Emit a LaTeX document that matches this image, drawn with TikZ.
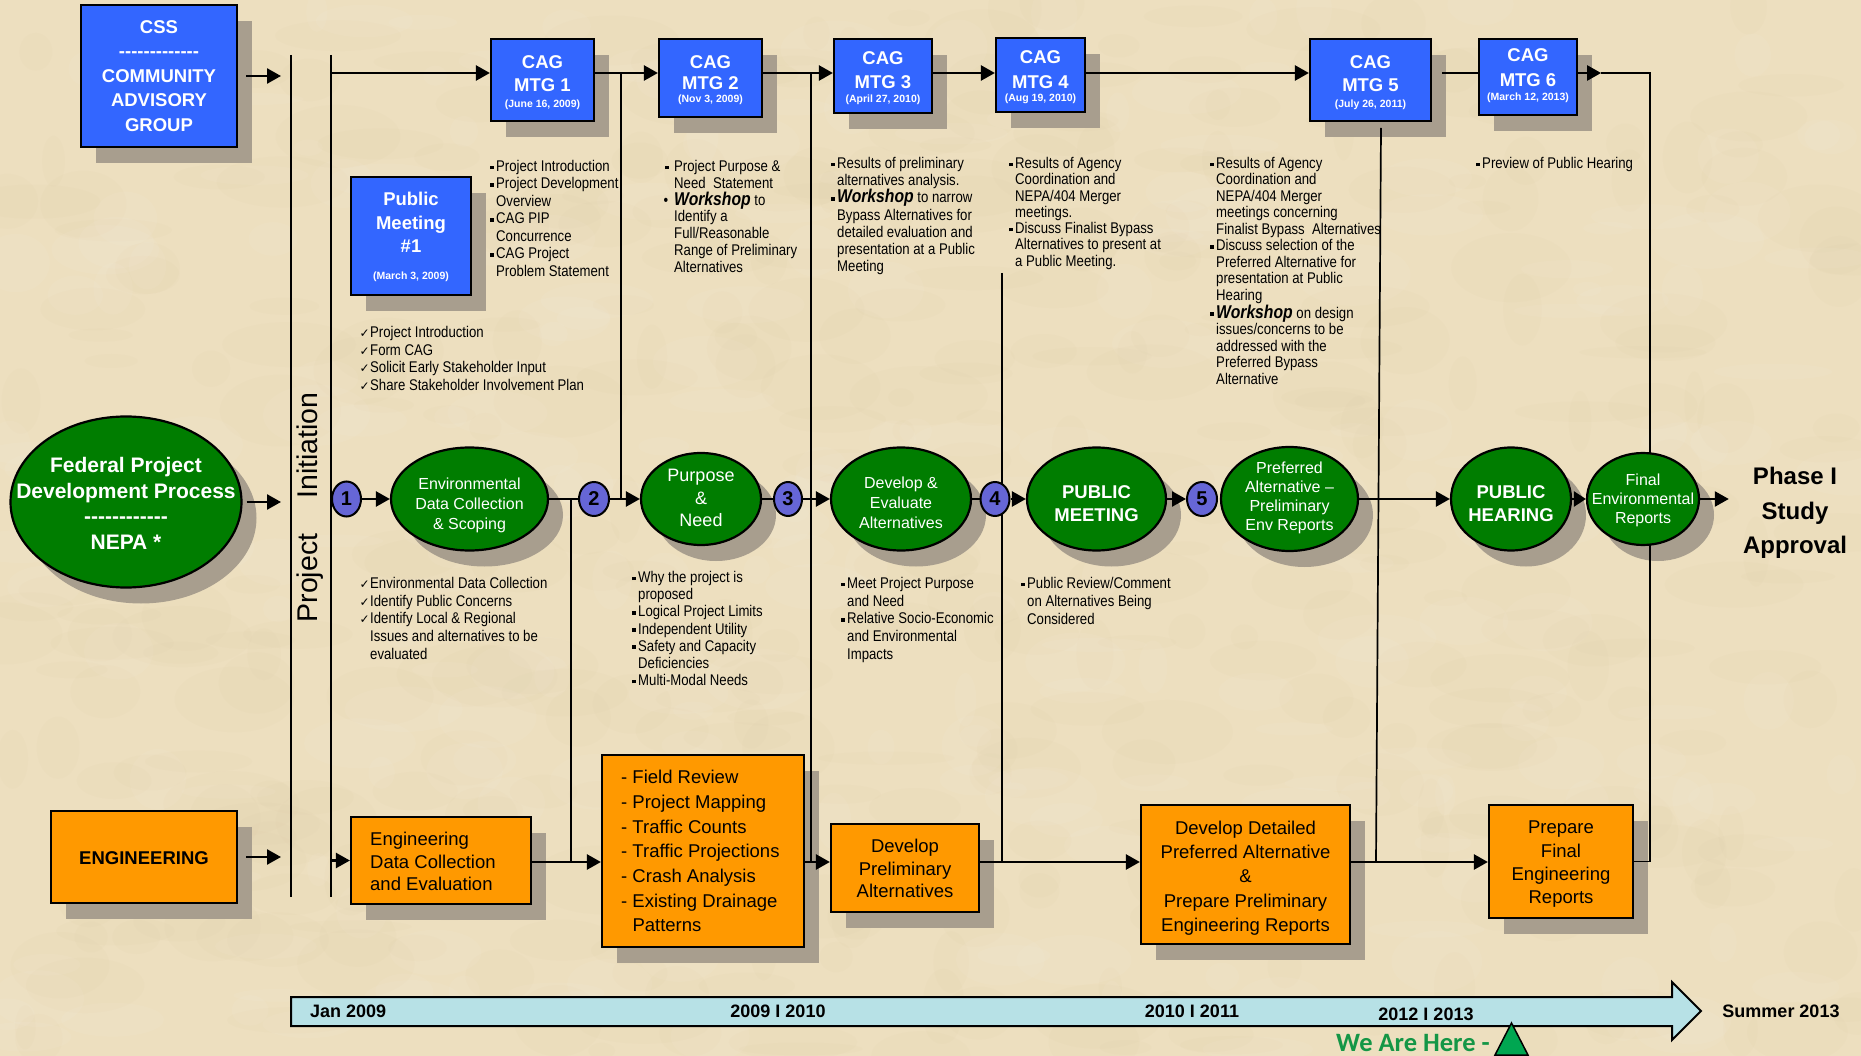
\documentclass[tikz,border=0pt]{standalone}
\usepackage{fontspec}
\setmainfont{Liberation Sans}
\newfontfamily\nar[FakeStretch=0.85]{Liberation Sans}
\newfontfamily\djv{DejaVu Sans}
\newfontfamily\carl{Carlito}
\usetikzlibrary{shapes.geometric,arrows.meta,calc}
\definecolor{bgc}{RGB}{237,223,191}
\definecolor{spotd}{RGB}{205,180,135}
\definecolor{shcol}{RGB}{168,158,142}
\definecolor{cblue}{RGB}{51,102,255}
\definecolor{cgreen}{RGB}{0,125,0}
\definecolor{corange}{RGB}{255,153,0}
\definecolor{cnum}{RGB}{102,102,214}
\definecolor{ctl}{RGB}{183,225,230}
\definecolor{chere}{RGB}{20,150,70}
\definecolor{ctri}{RGB}{0,166,81}
\pgfdeclarelayer{bg}\pgfdeclarelayer{shad}\pgfdeclarelayer{lines}
\pgfsetlayers{bg,shad,lines,main}
\newcommand\bsq{\llap{\raisebox{2.3pt}{\rule{3.6pt}{3.6pt}}\hspace{2.2pt}}}
\newcommand\bsqq{\llap{\raisebox{2.3pt}{\rule{3.6pt}{3.6pt}}\hspace{5.5pt}}}
\newcommand\ck{\llap{{\djv\fontsize{12}{10}\selectfont ✓}\hspace{0.4pt}}}
\newcommand\wk[1]{{\fontsize{18.5}{17}\selectfont\bfseries\itshape #1}}
\newcommand\hy{\mbox{-}}
\newcommand\shp[5]{%
  \begin{pgfonlayer}{shad}\node[#1,#5,fill=shcol,draw=none] at (#3+15,#4+16) {};\end{pgfonlayer}%
  \node[#1,#5] (#2) at (#3,#4) {};}
\tikzset{
 bx/.style={rectangle,draw=black,line width=2.2pt,inner sep=0pt},
 bluebx/.style={bx,fill=cblue},
 orbx/.style={bx,fill=corange},
 gell/.style={ellipse,draw=black,line width=2.2pt,fill=cgreen,inner sep=0pt},
 numc/.style={ellipse,draw=black,line width=2pt,fill=cnum,inner sep=0pt,font=\bfseries\fontsize{20}{20}\selectfont},
 arr/.style={line width=2.5pt,-{Triangle[length=14pt,width=15pt]}},
 conn/.style={line width=2.5pt},
 vl/.style={line width=1.7pt},
 wtxt/.style={text=white,align=center,inner sep=0pt},
 cagt/.style={wtxt,font=\bfseries\fontsize{18.5}{23}\selectfont},
 datet/.style={wtxt,font=\bfseries\fontsize{10.5}{12}\selectfont},
 etxt/.style={wtxt,font=\fontsize{16}{20}\selectfont},
 otxt/.style={align=center,inner sep=0pt,font=\fontsize{18.5}{22.5}\selectfont},
 note/.style={anchor=north west,align=left,inner sep=0pt,font=\nar\fontsize{15.5}{17.5}\selectfont},
 tl/.style={inner sep=0pt,font=\bfseries\fontsize{18}{20}\selectfont}
}
\begin{document}
\begin{tikzpicture}[x=1pt,y=-1pt]
\useasboundingbox (0,0) rectangle (1861,1056);
\begin{pgfonlayer}{bg}
\fill[bgc] (0,0) rectangle (1861,1056);
\pgfmathsetseed{7}
\foreach \i in {1,...,420}{
  \pgfmathsetmacro\px{rnd*1861}\pgfmathsetmacro\py{rnd*1056}
  \pgfmathsetmacro\rx{10+rnd*60}\pgfmathsetmacro\ry{6+rnd*30}
  \fill[spotd,opacity=0.04] (\px,\py) ellipse [x radius=\rx, y radius=\ry];
}
\foreach \i in {1,...,260}{
  \pgfmathsetmacro\px{rnd*1861}\pgfmathsetmacro\py{rnd*1056}
  \pgfmathsetmacro\rx{10+rnd*50}\pgfmathsetmacro\ry{6+rnd*25}
  \fill[white,opacity=0.05] (\px,\py) ellipse [x radius=\rx, y radius=\ry];
}
\end{pgfonlayer}

% ---------- boxes ----------
\shp{bluebx}{css}{159}{76}{minimum width=156,minimum height=142}
\shp{bluebx}{m1}{542.5}{80}{minimum width=103,minimum height=82}
\shp{bluebx}{m2}{710.5}{78}{minimum width=103,minimum height=78}
\shp{bluebx}{m3}{883}{76}{minimum width=98,minimum height=74}
\shp{bluebx}{m4}{1040.5}{75}{minimum width=89,minimum height=74}
\shp{bluebx}{m5}{1370.5}{80}{minimum width=121,minimum height=82}
\shp{bluebx}{m6}{1528}{77}{minimum width=98,minimum height=76}
\shp{bluebx}{pm1}{411}{236}{minimum width=120,minimum height=118}

\shp{orbx}{eng}{144}{857}{minimum width=186,minimum height=92}
\shp{orbx}{ed}{441}{860.5}{minimum width=180,minimum height=87}
\shp{orbx}{fr}{703}{851}{minimum width=202,minimum height=192}
\shp{orbx}{dp}{905}{868}{minimum width=148,minimum height=88}
\shp{orbx}{dd}{1245.5}{874.5}{minimum width=209,minimum height=139}
\shp{orbx}{pf}{1561}{861.5}{minimum width=144,minimum height=113}

% ---------- ellipses ----------
\shp{gell}{fed}{126}{502}{minimum width=231,minimum height=171}
\shp{gell}{env}{469.5}{499}{minimum width=157,minimum height=103}
\shp{gell}{pn}{701}{499}{minimum width=120,minimum height=92}
\shp{gell}{dev}{901}{499}{minimum width=140,minimum height=103}
\shp{gell}{pm}{1096.5}{499}{minimum width=139,minimum height=103}
\shp{gell}{pref}{1289.5}{499}{minimum width=137,minimum height=104}
\shp{gell}{ph}{1511}{499}{minimum width=120,minimum height=103}
\shp{gell}{fin}{1643}{499}{minimum width=112,minimum height=92}

\node[numc,minimum width=29,minimum height=35] (c1) at (346.5,499) {1};
\node[numc,minimum width=30,minimum height=34] (c2) at (594,499) {2};
\node[numc,minimum width=28,minimum height=34] (c3) at (788,499) {3};
\node[numc,minimum width=29,minimum height=34] (c4) at (995,499) {4};
\node[numc,minimum width=30,minimum height=34] (c5) at (1202,499) {5};

% ---------- texts in shapes ----------
\node[wtxt,font=\bfseries\fontsize{18.5}{24.5}\selectfont] (css-t) at (159,76)
  {CSS\\\hy\hy\hy\hy\hy\hy\hy\hy\hy\hy\hy\hy\hy\\COMMUNITY\\ADVISORY\\GROUP};
\node[cagt] (m1-t) at (542.5,73.5) {CAG\\MTG 1};
\node[datet] (m1-d) at (542.5,105) {(June 16, 2009)};
\node[cagt,font=\bfseries\fontsize{18.5}{21}\selectfont] (m2-t) at (710.5,72.5) {CAG\\MTG 2};
\node[datet] (m2-d) at (710.5,100) {(Nov 3, 2009)};
\node[cagt,font=\bfseries\fontsize{18.5}{24}\selectfont] (m3-t) at (883,70) {CAG\\MTG 3};
\node[datet] (m3-d) at (883,100) {(April 27, 2010)};
\node[cagt,font=\bfseries\fontsize{18.5}{25}\selectfont] (m4-t) at (1040.5,69.5) {CAG\\MTG 4};
\node[datet] (m4-d) at (1040.5,99) {(Aug 19, 2010)};
\node[cagt] (m5-t) at (1370.5,73.5) {CAG\\MTG 5};
\node[datet] (m5-d) at (1370.5,105) {(July 26, 2011)};
\node[cagt,font=\bfseries\fontsize{18.5}{25}\selectfont] (m6-t) at (1528,67.5) {CAG\\MTG 6};
\node[datet] (m6-d) at (1528,98) {(March 12, 2013)};
\node[cagt,font=\bfseries\fontsize{18.5}{23.5}\selectfont] (pm1-t) at (411,222.5) {Public\\Meeting\\\#1};
\node[datet] (pm1-d) at (411,277) {(March 3, 2009)};

\node[wtxt,font=\bfseries\fontsize{21}{25.7}\selectfont] (fed-t) at ([yshift=-1.5pt]fed.center)
  {Federal Project\\Development Process\\\hy\hy\hy\hy\hy\hy\hy\hy\hy\hy\hy\hy\\NEPA *};
\node[etxt] (env-t) at ([yshift=-6pt]env.center) {Environmental\\Data Collection\\\& Scoping};
\node[etxt,font=\fontsize{18}{22.5}\selectfont] (pn-t) at ([yshift=1pt]pn.center) {Purpose\\\&\\Need};
\node[etxt] (dev-t) at ([yshift=-4pt]dev.center) {Develop \&\\Evaluate\\Alternatives};
\node[cagt] (pm-t) at ([yshift=-5pt]pm.center) {PUBLIC\\MEETING};
\node[etxt,font=\fontsize{16}{19}\selectfont] (pref-t) at ([yshift=1pt]pref.center) {Preferred\\Alternative –\\Preliminary\\Env Reports};
\node[cagt] (ph-t) at ([yshift=-5pt]ph.center) {PUBLIC\\HEARING};
\node[etxt,font=\fontsize{16}{19}\selectfont] (fin-t) at ([yshift=-1pt]fin.center) {Final\\Environmental\\Reports};
\node[align=center,inner sep=0pt,font=\bfseries\fontsize{24}{34.5}\selectfont] (phase) at (1795,513) {Phase I\\Study\\Approval};

\node[inner sep=0pt,font=\bfseries\fontsize{18.5}{20}\selectfont] (eng-t) at (144,858) {ENGINEERING};
\node[otxt,align=left,anchor=west] (ed-t) at (370,861.5) {Engineering\\Data Collection\\and Evaluation};
\node[otxt,align=left,anchor=north west,font=\fontsize{18.5}{24.7}\selectfont] (fr-t) at (621,770)
  {- Field Review\\- Project Mapping\\- Traffic Counts\\- Traffic Projections\\- Crash Analysis\\- Existing Drainage\\\phantom{- }Patterns};
\node[otxt] (dp-t) at (905,868.5) {Develop\\Preliminary\\Alternatives};
\node[otxt,font=\fontsize{18.5}{24.3}\selectfont] (dd-t) at (1245.5,878) {Develop Detailed\\Preferred Alternative\\\&\\Prepare Preliminary\\Engineering Reports};
\node[otxt,font=\fontsize{18.5}{23.3}\selectfont] (pf-t) at (1561,864.5) {Prepare\\Final\\Engineering\\Reports};

\node[inner sep=0pt,rotate=90,font=\fontsize{28.5}{30}\selectfont] (pinit) at (310.5,507.5) {Project\hspace{35pt}Initiation};

% ---------- notes ----------
\node[note] (n1) at (496,160) {\bsq Project Introduction\\\bsq Project Development\\Overview\\\bsq CAG PIP\\Concurrence\\\bsq CAG Project\\Problem Statement};
\node[note,font=\nar\fontsize{15.5}{16.8}\selectfont] (n2) at (674,160) {\bsqq Project Purpose \&\\Need\ \ Statement\\\llap{•\hspace{6pt}}\wk{Workshop} to\\Identify a\\Full/Reasonable\\Range of Preliminary\\Alternatives};
\node[note,font=\nar\fontsize{15.5}{17.2}\selectfont] (n3) at (837,157) {\bsq Results of preliminary\\alternatives analysis.\\\bsq\wk{Workshop} to narrow\\Bypass Alternatives for\\detailed evaluation and\\presentation at a Public\\Meeting};
\node[note,font=\nar\fontsize{15.5}{16.3}\selectfont] (n4) at (1015,157) {\bsq Results of Agency\\Coordination and\\NEPA/404 Merger\\meetings.\\\bsq Discuss Finalist Bypass\\Alternatives to present at\\a Public Meeting.};
\node[note,font=\nar\fontsize{15.5}{16.5}\selectfont] (n5) at (1216,157) {\bsq Results of Agency\\Coordination and\\NEPA/404 Merger\\meetings concerning\\Finalist Bypass\ \ Alternatives\\\bsq Discuss selection of the\\Preferred Alternative for\\presentation at Public\\Hearing\\\bsq\wk{Workshop} on design\\issues/concerns to be\\addressed with the\\Preferred Bypass\\Alternative};
\node[note] (n6) at (1482,157) {\bsq Preview of Public Hearing};
\node[note,font=\nar\fontsize{15.5}{17.7}\selectfont] (n7) at (370,326) {\ck Project Introduction\\\ck Form CAG\\\ck Solicit Early Stakeholder Input\\\ck Share Stakeholder Involvement Plan};
\node[note,font=\nar\fontsize{15.5}{17.75}\selectfont] (n8) at (370,577) {\ck Environmental Data Collection\\\ck Identify Public Concerns\\\ck Identify Local \& Regional\\Issues and alternatives to be\\evaluated};
\node[note,font=\nar\fontsize{15.5}{17.2}\selectfont] (n9) at (638,571) {\bsq Why the project is\\proposed\\\bsq Logical Project Limits\\\bsq Independent Utility\\\bsq Safety and Capacity\\Deficiencies\\\bsq Multi-Modal Needs};
\node[note,font=\nar\fontsize{15.5}{17.75}\selectfont] (n10) at (847,577) {\bsq Meet Project Purpose\\and Need\\\bsq Relative Socio-Economic\\and Environmental\\Impacts};
\node[note,font=\nar\fontsize{15.5}{18}\selectfont] (n11) at (1027,577) {\bsq Public Review/Comment\\on Alternatives Being\\Considered};

% ---------- timeline ----------
\draw[fill=ctl,line width=2pt] (291,997) -- (1672,997) -- (1672,982) -- (1701,1011) -- (1672,1040) -- (1672,1026) -- (291,1026) -- cycle;
\node[tl,anchor=west] (tl1) at (310,1011) {Jan 2009};
\node[tl] (tl2) at (778,1011) {2009 I 2010};
\node[tl] (tl3) at (1192,1011) {2010 I 2011};
\node[tl] (tl4) at (1426,1014) {2012 I 2013};
\node[tl] (tl5) at (1781,1011) {Summer 2013};
\node[inner sep=0pt,text=chere,font=\carl\bfseries\fontsize{26.5}{28}\selectfont] (here) at (1413,1043) {We Are Here -};
\draw[fill=ctri,line width=1.5pt] (1495,1055) -- (1528,1055) -- (1511.5,1023) -- cycle;

% ---------- connectors ----------
\coordinate (top) at (0,73);
\coordinate (erow) at (0,862);
\coordinate (laT) at (291,55); \coordinate (laB) at (291,897);
\coordinate (lbT) at (331,55); \coordinate (lbB) at (331,897);
\coordinate (v1) at (571,499);
\coordinate (v2) at (621,73);
\coordinate (v3) at (811,73);
\coordinate (v4) at (1002,273);
\coordinate (v5t) at (1381,128); \coordinate (v5b) at (1376,862);
\coordinate (c6) at (1650,73);
\begin{pgfonlayer}{lines}
\draw[vl] (laT) -- (laB);
\draw[vl] (lbT) -- (lbB);
\draw[arr] ([xshift=8pt]css.east) -- ($(css.east -| laT)+(-10,0)$);
\draw[arr] ([xshift=4pt]fed.east) -- ($(fed.east -| laT)+(-10,0)$);
\draw[arr] ([xshift=8pt]eng.east) -- ($(eng.east -| laT)+(-10,0)$);
\draw[arr] (lbT |- top) -- (m1.west |- top);
\draw[arr] (m1.east |- top) -- (m2.west |- top);
\draw[arr] (m2.east |- top) -- (m3.west |- top);
\draw[arr] (m3.east |- top) -- (m4.west |- top);
\draw[arr] (m4.east |- top) -- (m5.west |- top);
\draw[conn] ($(m5.east |- top)+(10,0)$) -- (m6.west |- top);
\draw[arr] (m6.east |- top) -- ++(23,0);
\draw[vl] ($(m6.east |- top)+(23,0)$) -- (c6) -- (c6 |- pf.east) -- (pf.east);
\draw[vl] (v2) -- (v2 |- pn.west);
\draw[vl] (v3) -- (v3 |- erow);
\draw[vl] (v4) -- (v4 |- erow);
\draw[vl] (v5t) -- (v5b);
\draw[vl] (v1) -- (v1 |- erow);
\draw[arr] (c1.east) -- (env.west);
\draw[conn] (env.east) -- (c2.west);
\draw[arr] (c2.east) -- (pn.west);
\draw[conn] (pn.east) -- (c3.west);
\draw[arr] (c3.east) -- (dev.west);
\draw[conn] (dev.east) -- (c4.west);
\draw[arr] (c4.east) -- (pm.west);
\draw[arr] (pm.east) -- (c5.west);
\draw[arr] (pref.east) -- (ph.west);
\draw[line width=2.5pt,-{Triangle[length=12pt,width=15pt]}] (ph.east) -- (fin.west);
\draw[arr] (fin.east) -- ($(phase.west |- fin.east)+(-14,0)$);
\draw[arr] (lbB |- ed.west) -- (ed.west);
\draw[arr] (ed.east |- erow) -- (fr.west |- erow);
\draw[arr] (fr.east |- erow) -- (dp.west |- erow);
\draw[arr] (dp.east |- erow) -- (dd.west |- erow);
\draw[arr] (dd.east |- erow) -- (pf.west |- erow);
\end{pgfonlayer}
\end{tikzpicture}
\end{document}
